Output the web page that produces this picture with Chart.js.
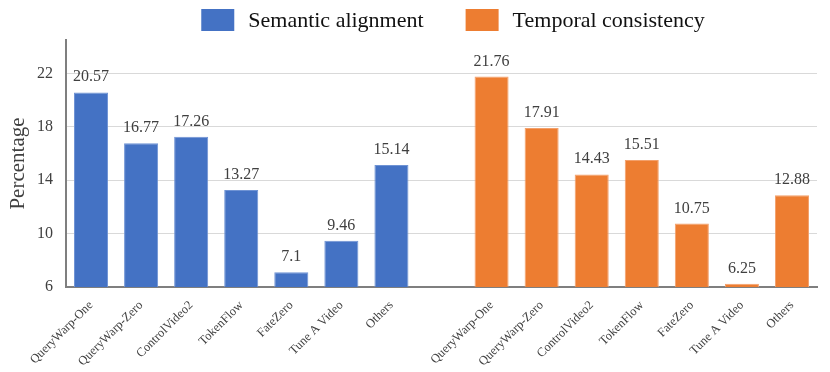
<!DOCTYPE html>
<html>
<head>
<meta charset="utf-8">
<script src="https://cdn.jsdelivr.net/npm/chart.js@4/dist/chart.umd.min.js"></script>
<style>
html,body{margin:0;padding:0;background:#fff;}
#wrap{width:830px;height:372px;position:relative;}
</style>
</head>
<body>
<div id="wrap"><canvas id="c" width="830" height="372"></canvas></div>
<script>
const methods = ["QueryWarp-One","QueryWarp-Zero","ControlVideo2","TokenFlow","FateZero","Tune A Video","Others"];
const semanticAlignment = [20.57,16.77,17.26,13.27,7.1,9.46,15.14];
const temporalConsistency = [21.76,17.91,14.43,15.51,10.75,6.25,12.88];
const yTicks = [6,10,14,18,22];

const labels = [...methods, "", ...methods];
const blueData = [...semanticAlignment, null, ...methods.map(() => null)];
const orangeData = [...methods.map(() => null), null, ...temporalConsistency];

const serif = '"Liberation Serif", "Times New Roman", serif';

const valueLabels = {
  id: 'valueLabels',
  afterDatasetsDraw(chart) {
    const ctx = chart.ctx;
    ctx.save();
    ctx.font = '16px ' + serif;
    ctx.fillStyle = '#404040';
    ctx.textAlign = 'center';
    ctx.textBaseline = 'alphabetic';
    chart.data.datasets.forEach((ds, di) => {
      const meta = chart.getDatasetMeta(di);
      meta.data.forEach((el, i) => {
        const v = ds.data[i];
        if (v === null || v === undefined) return;
        ctx.fillText(String(v), el.x, el.y - 11);
      });
    });
    ctx.restore();
  }
};

const customLegend = {
  id: 'customLegend',
  afterDraw(chart) {
    const ctx = chart.ctx;
    ctx.save();
    ctx.font = '22px ' + serif;
    ctx.textBaseline = 'middle';
    ctx.textAlign = 'left';
    const boxW = 33, boxH = 22, gapText = 14, gapItem = 42;
    const items = chart.data.datasets.map(ds => ({text: ds.label, color: ds.backgroundColor}));
    let total = 0;
    items.forEach((it, i) => {
      it.w = ctx.measureText(it.text).width;
      total += boxW + gapText + it.w + (i < items.length - 1 ? gapItem : 0);
    });
    let x = 453 - total / 2;
    const top = 9;
    items.forEach(it => {
      ctx.fillStyle = it.color;
      ctx.fillRect(x, top, boxW, boxH);
      ctx.fillStyle = '#111';
      ctx.fillText(it.text, x + boxW + gapText, top + boxH / 2 + 1);
      x += boxW + gapText + it.w + gapItem;
    });
    ctx.restore();
  }
};

new Chart(document.getElementById('c'), {
  type: 'bar',
  data: {
    labels: labels,
    datasets: [
      {label: 'Semantic alignment', data: blueData, backgroundColor: '#4472C4', borderColor: '#6f93d4', borderWidth: 1, grouped: false, barPercentage: 0.68, categoryPercentage: 1},
      {label: 'Temporal consistency', data: orangeData, backgroundColor: '#ED7D31', borderColor: '#f3a06b', borderWidth: 1, grouped: false, barPercentage: 0.68, categoryPercentage: 1}
    ]
  },
  options: {
    responsive: false,
    animation: false,
    layout: {padding: {top: 40, right: 13, left: 0, bottom: 0}},
    plugins: {
      legend: {display: false},
      tooltip: {enabled: false}
    },
    scales: {
      x: {
        grid: {display: false},
        border: {display: true, color: '#7f7f7f', width: 2},
        ticks: {
          autoSkip: false,
          maxRotation: 45,
          minRotation: 45,
          font: {family: serif, size: 12.5},
          color: '#404040',
          padding: 3
        },
        afterFit(scale) { scale.height = 85; }
      },
      y: {
        min: 6,
        max: 24.5,
        afterBuildTicks(axis) { axis.ticks = yTicks.map(v => ({value: v})); },
        grid: {color: '#d9d9d9', lineWidth: 1, drawTicks: false},
        border: {display: true, color: '#7f7f7f', width: 2},
        ticks: {
          font: {family: serif, size: 16},
          color: '#404040',
          padding: 13
        },
        title: {
          display: true,
          text: 'Percentage',
          font: {family: serif, size: 21},
          color: '#404040',
          padding: {top: 6, bottom: 0}
        },
        afterFit(scale) { scale.width = 66; }
      }
    }
  },
  plugins: [valueLabels, customLegend]
});
</script>
</body>
</html>
